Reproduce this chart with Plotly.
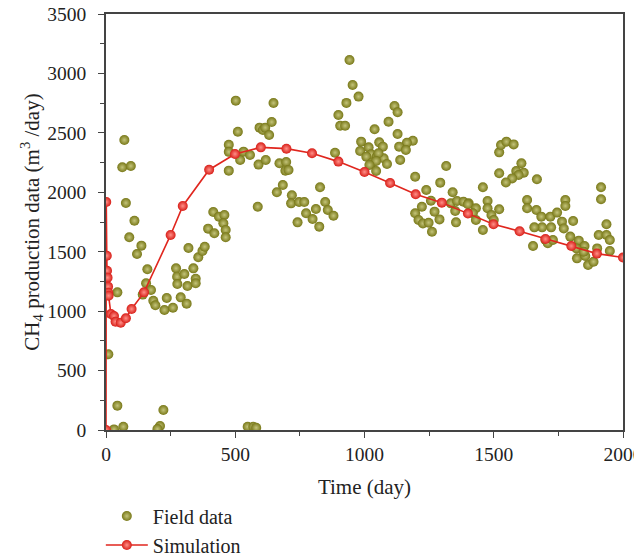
import plotly.graph_objects as go

# Field data (day, CH4 m3/day)
field_x = [9, 31, 44, 67, 44, 71, 63, 96, 77, 110, 90, 137, 120, 160, 155, 174, 142, 183, 191,
           235, 226, 259, 222, 209, 199, 271, 275, 276, 303, 315, 289, 312, 338, 347, 347, 319,
           357, 373, 382, 395, 419, 415, 437, 458, 454, 463, 463, 475, 475, 475,
           502, 510, 519, 532, 557, 590, 618, 594, 607, 616, 641, 631, 648, 671, 697, 694, 706,
           684, 661, 587, 828, 719, 716, 747, 767, 848, 812, 858, 880, 774, 799, 741, 825, 886,
           899, 906, 925, 548, 570, 581,
           942, 954, 977, 930, 1116, 1128, 1093, 1039, 1128, 1187, 1164, 1134, 1160, 987, 983,
           1016, 1057, 1071, 1026, 1007, 1048, 1074, 1054, 1029, 1045, 1087, 1138, 1019, 1045,
           1316, 1196, 1293, 1239, 1341, 1257, 1222, 1196, 1271, 1209, 1226, 1248, 1290, 1261,
           1354, 1334, 1358, 1383, 1351, 1403,
           1521, 1528, 1549, 1577, 1607, 1521, 1587, 1616, 1596, 1571, 1547, 1667, 1458, 1400,
           1431, 1419, 1431, 1458, 1476, 1476, 1521, 1491, 1500, 1629, 1629, 1665, 1684, 1719,
           1745, 1777, 1777, 1764, 1807, 1687, 1657, 1722, 1771, 1652, 1700, 1709, 1729, 1796,
           1829, 1851, 1820, 1822, 1854, 1865, 1886, 1900, 1906, 1936, 1936, 1949, 1949, 1915,
           1915, 1848]
field_y = [637, 5, 205, 28, 1158, 2440, 2210, 2221, 1910, 1761, 1621, 1551, 1481, 1352, 1234,
           1178, 1139, 1088, 1049, 1111, 1010, 1029, 168, 34, 8, 1360, 1290, 1228, 1312, 1211,
           1116, 1063, 1360, 1273, 1234, 1531, 1453, 1506, 1542, 1694, 1655, 1834, 1795, 1809,
           1739, 1683, 1621, 2400, 2340, 2182,
           2771, 2510, 2272, 2342, 2314, 2233, 2272, 2544, 2524, 2544, 2591, 2482, 2751, 2244,
           2255, 2182, 2187, 2061, 2000, 1879, 2042, 1975, 1907, 1918, 1918, 1918, 1859, 1851,
           1803, 1823, 1775, 1747, 1711, 2333, 2650, 2560, 2560, 28, 28, 19,
           3113, 2903, 2805, 2752, 2726, 2673, 2594, 2530, 2490, 2434, 2417, 2384, 2356, 2426,
           2347, 2378, 2420, 2384, 2320, 2300, 2300, 2286, 2328, 2249, 2263, 2238, 2272, 2230,
           2179, 2221, 2131, 2081, 2019, 2000, 1929, 1879, 1823, 1837, 1767, 1738, 1744, 1772,
           1668, 1747, 1907, 1927, 1921, 1842, 1907,
           2336, 2398, 2426, 2403, 2244, 2160, 2179, 2165, 2145, 2117, 2083, 2109, 2042, 1899,
           1865, 1823, 1767, 1683, 1927, 1865, 1857, 1809, 1767, 1935, 1865, 1851, 1795, 1795,
           1829, 1935, 1885, 1753, 1758, 1705, 1705, 1705, 1696, 1548, 1599, 1571, 1599, 1627,
           1593, 1548, 1528, 1444, 1464, 1388, 1416, 1528, 1641, 1641, 1731, 1599, 1506, 2042,
           1941, 1500]

# Simulation
sim_x = [0, 1, 3, 4, 6, 8, 9, 10, 19, 31, 37, 57, 77, 99, 147, 250, 297, 399, 499, 599, 698,
         797, 899, 1000, 1099, 1198, 1299, 1400, 1499, 1600, 1700, 1800, 1899, 2000]
sim_y = [0, 1918, 1466, 1340, 1282, 1206, 1155, 1130, 976, 959, 911, 903, 940, 1018, 1158,
         1641, 1885, 2190, 2322, 2378, 2367, 2328, 2258, 2171, 2078, 1983, 1913, 1821, 1731,
         1672, 1607, 1548, 1484, 1451]

x_ticks = [0, 500, 1000, 1500, 2000]
y_ticks = [0, 500, 1000, 1500, 2000, 2500, 3000, 3500]

FONT = "Liberation Serif"

fig = go.Figure()
fig.add_trace(go.Scatter(
    x=field_x, y=field_y, mode="markers", name="Field data",
    marker=dict(size=10, color="#787818",
                gradient=dict(type="radial", color="#c4c47a"),
                line=dict(width=0)),
    legendgroup="a",
))
fig.add_trace(go.Scatter(
    x=sim_x, y=sim_y, mode="lines+markers", name="Simulation",
    line=dict(color="#e0261e", width=1.6),
    marker=dict(size=10, color="#d81e18",
                gradient=dict(type="radial", color="#ff9088"),
                line=dict(width=0)),
    legendgroup="b",
))

axis_common = dict(
    showline=True, linecolor="#444444", linewidth=1.5, mirror=True,
    ticks="outside", ticklen=6, tickwidth=1.2, tickcolor="#444444",
    showgrid=False, zeroline=False, automargin=False,
    ticklabeloverflow="allow",
    tickfont=dict(family=FONT, size=19.5, color="#222222"),
    title_font=dict(family=FONT, size=21, color="#222222"),
)

fig.update_xaxes(range=[0, 2000], tickvals=x_ticks,
                 minor=dict(dtick=250, tick0=0, ticks="outside", ticklen=4, tickcolor="#444444"),
                 title_text="Time (day)", title_standoff=15,
                 **axis_common)
fig.update_yaxes(range=[0, 3500], tickvals=y_ticks,
                 minor=dict(dtick=250, tick0=0, ticks="outside", ticklen=4, tickcolor="#444444"),
                 title_text="CH<sub>4</sub> production data (m<sup>3</sup> /day)",
                 ticklabelstandoff=8, title_standoff=2, **axis_common)

# the page places the figure 8px in from the top-left corner
fig.update_layout(
    width=634, height=549,
    margin=dict(l=98, r=19, t=6, b=127, autoexpand=False),
    plot_bgcolor="white", paper_bgcolor="white",
    font=dict(family=FONT, size=19.5, color="#222222"),
    legend=dict(x=-0.01, y=-0.160, xanchor="left", yanchor="top",
                itemwidth=42,
                font=dict(family=FONT, size=20, color="#222222"),
                tracegroupgap=0, traceorder="grouped", bgcolor="rgba(0,0,0,0)"),
    showlegend=True,
)

fig.write_html("out.html")
